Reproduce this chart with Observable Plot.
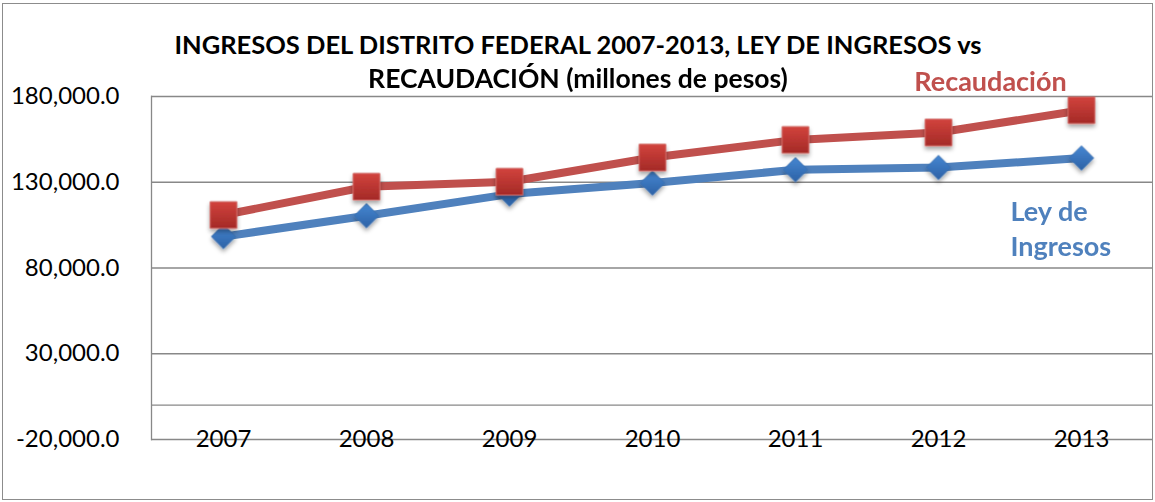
<!DOCTYPE html>
<html>
<head>
<meta charset="utf-8">
<script src="https://cdn.jsdelivr.net/npm/d3@7"></script>
<script src="https://cdn.jsdelivr.net/npm/@observablehq/plot@0.6"></script>
<style>
  html, body { margin: 0; padding: 0; background: #fff; }
  #wrap { position: relative; width: 1155px; height: 502px; overflow: hidden; font-family: Lato, "Open Sans", sans-serif; }
  #border { position: absolute; left: 2px; top: 3px; width: 1151px; height: 497px; box-sizing: border-box; border: 1.5px solid #8c8c8c; pointer-events: none; }
  #chart { position: absolute; left: 0; top: 0; }
  .title { position: absolute; left: 0; width: 1156px; text-align: center; font-weight: bold; font-size: 25.5px; line-height: 30px; color: #000; white-space: nowrap; }
</style>
</head>
<body>
<div id="wrap">
  <div id="chart"></div>
  <div class="title" style="top:29px">INGRESOS DEL DISTRITO FEDERAL 2007-2013, LEY DE INGRESOS vs</div>
  <div class="title" style="top:63px; font-size:26.5px">RECAUDACIÓN (millones de pesos)</div>
  <div id="border"></div>
</div>
<script>
const years = ["2007", "2008", "2009", "2010", "2011", "2012", "2013"];
const leyIngresos = [98300, 110500, 123100, 129500, 137300, 138600, 144100];
const recaudacion = [110900, 127400, 130300, 144400, 154700, 159000, 172000];
const yTicks = [-20000, 30000, 80000, 130000, 180000];
const gridValues = [0, 30000, 80000, 130000, 180000];
const seriesNames = ["Ley de Ingresos", "Recaudación"];
const seriesColors = ["#4F81BD", "#C0504D"];

const leyData = years.map((year, i) => ({year, value: leyIngresos[i], series: seriesNames[0]}));
const recData = years.map((year, i) => ({year, value: recaudacion[i], series: seriesNames[1]}));

const fmt = d3.format(",.1f");
const yFormat = (d) => fmt(d).replace("\u2212", "-");

const svg = Plot.plot({
  width: 1155,
  height: 502,
  marginLeft: 151,
  marginRight: 3,
  marginTop: 96,
  marginBottom: 63,
  style: {fontFamily: "Lato, 'Open Sans', sans-serif", fontSize: "24px", color: "#000", background: "transparent", overflow: "visible"},
  x: {type: "point", domain: years, padding: 0.5, label: null},
  y: {domain: [-20000, 180000], label: null},
  color: {domain: seriesNames, range: seriesColors},
  marks: [
    Plot.ruleY(gridValues, {stroke: "#888888", strokeWidth: 1.3}),
    Plot.ruleY([-20000], {stroke: "#888888", strokeWidth: 1.3}),
    Plot.frame({anchor: "left", stroke: "#888888", strokeWidth: 1.3}),
    Plot.axisY(yTicks, {tickSize: 0, tickPadding: 32, tickFormat: yFormat, fontSize: 24, label: null}),
    Plot.axisX({tickSize: 0, tickPadding: 0, lineAnchor: "middle", fontSize: 24, label: null}),
    Plot.line(leyData, {x: "year", y: "value", stroke: "series", strokeWidth: 8, strokeLinejoin: "round"}),
    Plot.line(recData, {x: "year", y: "value", stroke: "series", strokeWidth: 8, strokeLinejoin: "round"}),
    Plot.dot(leyData, {x: "year", y: "value", symbol: "diamond2", r: 11, fill: "url(#gBlue)", stroke: "#3a6fb0", strokeWidth: 0.8}),
    Plot.dot(recData, {x: "year", y: "value", symbol: "square", r: 15, fill: "url(#gRed)", stroke: "#d06a66", strokeWidth: 1}),
    Plot.text(recData.slice(-1), {x: "year", y: "value", text: () => "Recaudación", fill: seriesColors[1], fontWeight: "bold", fontSize: 27, textAnchor: "middle", lineAnchor: "middle", dx: -91, dy: -28}),
    Plot.text(leyData.slice(-1), {x: "year", y: "value", text: () => "Ley de\nIngresos", fill: seriesColors[0], fontWeight: "bold", fontSize: 27, textAnchor: "start", lineAnchor: "top", lineHeight: 1.3, dx: -71, dy: 38})
  ]
});

const s = d3.select(svg);
const defs = s.insert("defs", ":first-child");
const gr = defs.append("linearGradient").attr("id", "gRed").attr("x1", 0).attr("y1", 0).attr("x2", 0).attr("y2", 1);
gr.append("stop").attr("offset", "0%").attr("stop-color", "#d2433d");
gr.append("stop").attr("offset", "100%").attr("stop-color", "#a42a27");
const gb = defs.append("linearGradient").attr("id", "gBlue").attr("x1", 0).attr("y1", 0).attr("x2", 0).attr("y2", 1);
gb.append("stop").attr("offset", "0%").attr("stop-color", "#4687d2");
gb.append("stop").attr("offset", "100%").attr("stop-color", "#2d62a6");
const f = defs.append("filter").attr("id", "shadow").attr("x", "-50%").attr("y", "-50%").attr("width", "200%").attr("height", "200%");
f.append("feDropShadow").attr("dx", 0).attr("dy", 3).attr("stdDeviation", 2).attr("flood-color", "#000").attr("flood-opacity", 0.35);
s.selectAll("g[aria-label=dot]").attr("filter", "url(#shadow)");

document.getElementById("chart").appendChild(svg);
</script>
</body>
</html>
